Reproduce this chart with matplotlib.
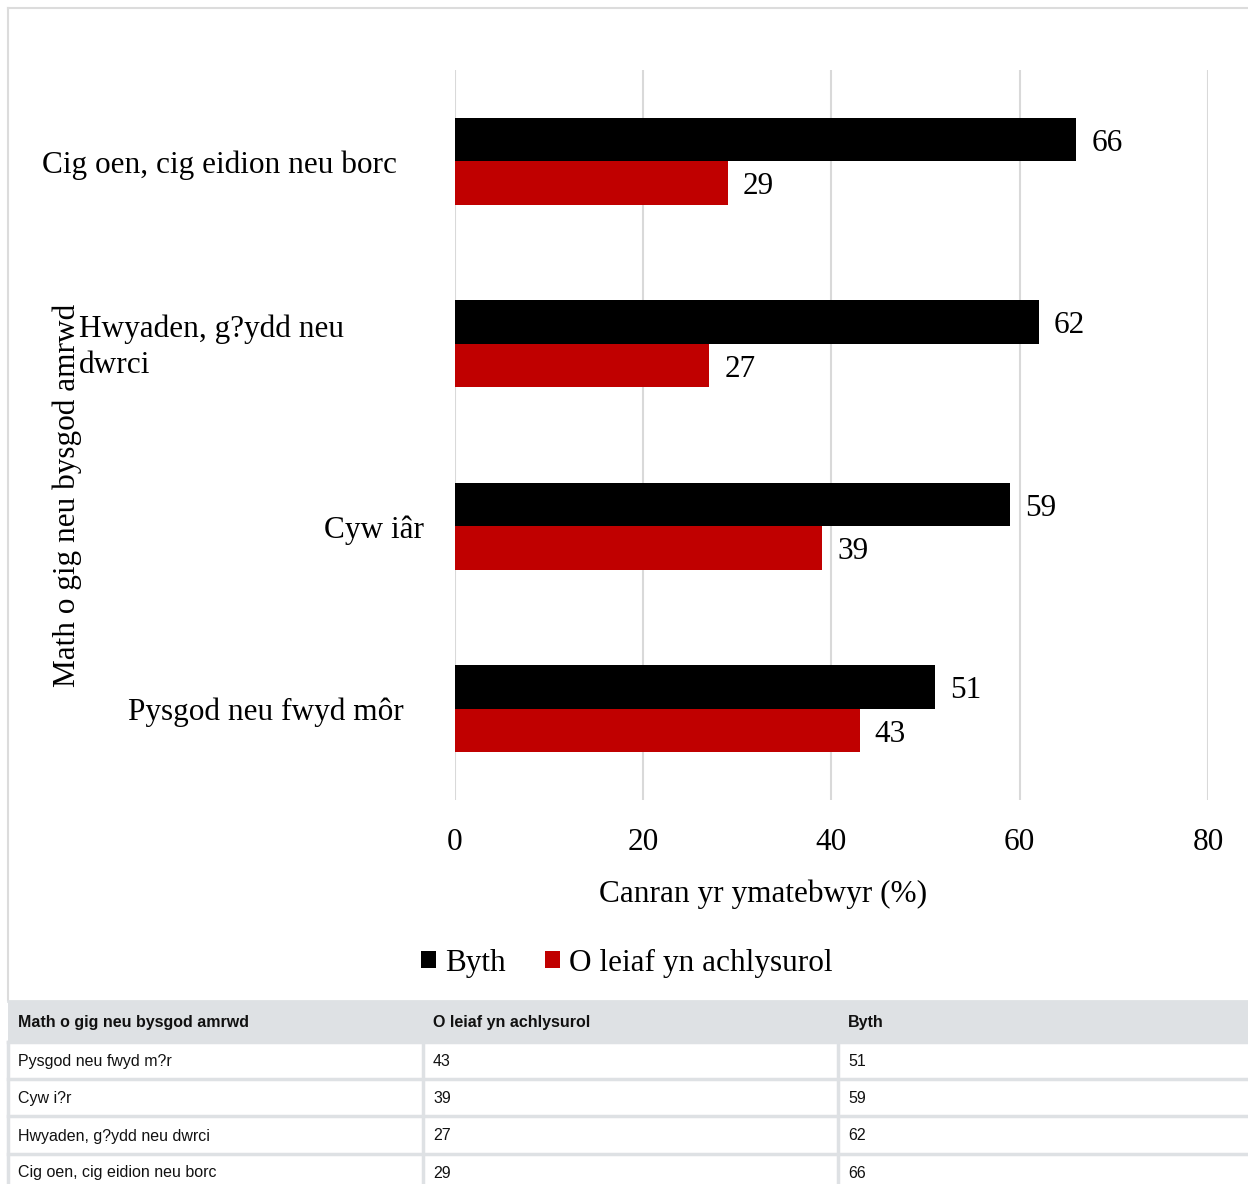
import matplotlib
matplotlib.use("Agg")
import matplotlib.pyplot as plt
import matplotlib.transforms as mtransforms
from matplotlib.patches import Rectangle
import numpy as np

# data (top to bottom in the chart)
categories = ["Cig oen, cig eidion neu borc", "Hwyaden, g?ydd neu\ndwrci",
              "Cyw iâr", "Pysgod neu fwyd môr"]
byth = [66, 62, 59, 51]
o_leiaf = [29, 27, 39, 43]
xticks = [0, 20, 40, 60, 80]

# table rows (as in the table under the chart)
table_header = ["Math o gig neu bysgod amrwd", "O leiaf yn achlysurol", "Byth"]
table_cats = ["Pysgod neu fwyd m?r", "Cyw i?r", "Hwyaden, g?ydd neu dwrci",
              "Cig oen, cig eidion neu borc"]
table_oleiaf = [43, 39, 27, 29]
table_byth = [51, 59, 62, 66]

W, H = 1248, 1184
fig = plt.figure(figsize=(W / 100, H / 100), dpi=100)
serif = "Liberation Serif"
sans = "Liberation Sans"
FS = 22.5
TFS = 11.5

def fx(px):
    return px / W

def fy(py):
    return 1 - py / H

# plot area: x 455..1208, y 70..800
ax = fig.add_axes([fx(455), fy(800), fx(1208) - fx(455), (800 - 70) / H])
y = np.arange(len(categories))
bh = 0.238
ax.barh(y - bh / 2, byth, height=bh, color="#000000", zorder=3, label="Byth")
ax.barh(y + bh / 2, o_leiaf, height=bh, color="#C00000", zorder=3,
        label="O leiaf yn achlysurol")
ax.set_ylim(len(categories) - 0.5, -0.5)
ax.set_xlim(0, 80)
ax.set_xticks(xticks)
ax.set_xticklabels([str(t) for t in xticks], fontfamily=serif, fontsize=FS)
ax.tick_params(axis="x", length=0, pad=20)
ax.set_yticks([])
ax.grid(axis="x", color="#d9d9d9", linewidth=1.5, zorder=0)
for s in ax.spines.values():
    s.set_visible(False)

off = 0.02
for i in range(len(categories)):
    ax.text(byth[i] + 1.6, y[i] - bh / 2 + off, str(byth[i]), va="center", ha="left",
            fontfamily=serif, fontsize=FS)
    ax.text(o_leiaf[i] + 1.6, y[i] + bh / 2 + off, str(o_leiaf[i]), va="center",
            ha="left", fontfamily=serif, fontsize=FS)

# category labels (positions as in reference)
trans = mtransforms.blended_transform_factory(fig.transFigure, ax.transData)
label_x = [42, 79, 324, 128]
for i, lab in enumerate(categories):
    ax.text(fx(label_x[i]), y[i] + off, lab, transform=trans, ha="left",
            va="center", fontfamily=serif, fontsize=FS, linespacing=1.3)

fig.text(fx(67), fy(495), "Math o gig neu bysgod amrwd", rotation=90,
         ha="center", va="center", fontfamily=serif, fontsize=FS)
fig.text(fx(763), fy(894), "Canran yr ymatebwyr (%)", ha="center", va="center",
         fontfamily=serif, fontsize=FS)

leg = ax.legend(loc="center", bbox_to_anchor=(fx(627), fy(963)),
                bbox_transform=fig.transFigure, ncol=2, frameon=False,
                prop={"family": serif, "size": FS}, handlelength=0.48,
                handleheight=0.48, handletextpad=0.3, columnspacing=1.25)

# outer border
fig.add_artist(plt.Line2D([fx(8), fx(8)], [fy(8), fy(1000)], color="#dcdcdc", lw=1.5))
fig.add_artist(plt.Line2D([fx(8), 1], [fy(8), fy(8)], color="#dcdcdc", lw=1.5))

# table
col_x = [8, 423, 838, 1248]
row_y = [1001, 1042, 1079, 1116, 1154, 1191]
fig.add_artist(Rectangle((fx(8), fy(1042)), 1 - fx(8), (1042 - 1001) / H,
                         transform=fig.transFigure, facecolor="#dee1e4",
                         edgecolor="none"))
for r in row_y[1:-1]:
    fig.add_artist(plt.Line2D([fx(8), 1], [fy(r), fy(r)], color="#dee1e4", lw=2.5))
for c in col_x[:3]:
    fig.add_artist(plt.Line2D([fx(c), fx(c)], [fy(1042), 0], color="#dee1e4", lw=2.5))
fig.add_artist(plt.Line2D([fx(8), 1], [fy(1001), fy(1001)], color="#dee1e4", lw=2))

for j, h in enumerate(table_header):
    fig.text(fx(col_x[j] + 10), fy(1023), h, ha="left", va="center",
             fontfamily=sans, fontsize=TFS, fontweight="bold", color="#111111")
for i in range(len(table_cats)):
    yc = (row_y[i + 1] + row_y[i + 2]) / 2 + 1
    if i == len(table_cats) - 1:
        yc = 1173
    vals = [table_cats[i], str(table_oleiaf[i]), str(table_byth[i])]
    for j, v in enumerate(vals):
        fig.text(fx(col_x[j] + 10), fy(yc), v, ha="left", va="center",
                 fontfamily=sans, fontsize=TFS, color="#111111")

fig.savefig("out.png", dpi=100)
